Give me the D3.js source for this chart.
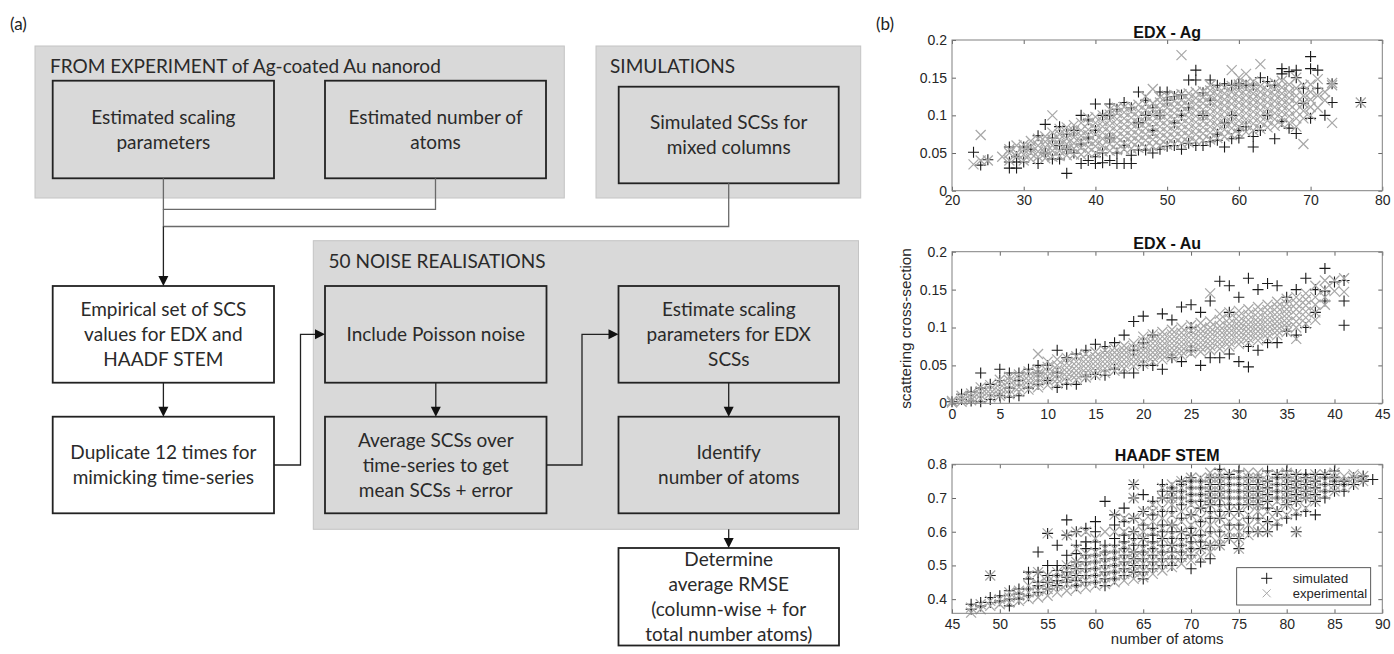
<!DOCTYPE html>
<html><head><meta charset="utf-8">
<script src="https://cdn.jsdelivr.net/npm/d3@7"></script>
<style>body{margin:0;background:#fff}</style>
</head><body><svg id="c" width="1394" height="654"></svg>
<script>
// ---------------- DATA ----------------
// Flowchart texts
const groupTitles = ["FROM EXPERIMENT of Ag-coated Au nanorod", "SIMULATIONS", "50 NOISE REALISATIONS"];
const boxTexts = {
  scaling: ["Estimated scaling", "parameters"],
  atoms: ["Estimated number of", "atoms"],
  simulated: ["Simulated SCSs for", "mixed columns"],
  empirical: ["Empirical set of SCS", "values for EDX and", "HAADF STEM"],
  duplicate: ["Duplicate 12 times for", "mimicking time-series"],
  poisson: ["Include Poisson noise"],
  average: ["Average SCSs over", "time-series to get", "mean SCSs + error"],
  estimate: ["Estimate scaling", "parameters for EDX", "SCSs"],
  identify: ["Identify", "number of atoms"],
  rmse: ["Determine", "average RMSE", "(column-wise + for", "total number atoms)"]
};
// Scatter panels: columns [numberOfAtoms, scs values...]
const panelTitles = ["EDX - Ag", "EDX - Au", "HAADF STEM"];
const legendLabels = ["simulated", "experimental"];
const yAxisLabel = "scattering cross-section";
const xAxisLabel = "number of atoms";

const agXTicks = [20,30,40,50,60,70,80];
const agYTicks = [0,0.05,0.1,0.15,0.2];
const auXTicks = [0,5,10,15,20,25,30,35,40,45];
const auYTicks = [0,0.05,0.1,0.15,0.2];
const haXTicks = [45,50,55,60,65,70,75,80,85,90];
const haYTicks = [0.4,0.5,0.6,0.7,0.8];

const agSimulated = [
 [23,.051],[24,.034],[25,.041],[28,.03,.038,.058],[29,.03,.038,.045],[30,.038,.058],[31,.055],
 [32,.036,.073],[33,.05,.088],[34,.042,.07],[35,.042,.085,.06],[36,.023,.055,.075],[37,.05,.08],
 [38,.036,.1,.062],[39,.04,.094,.07],[40,.036,.045,.115,.08],[41,.037,.05,.1],[42,.04,.115,.1,.07],
 [43,.036,.108,.05],[44,.036,.117,.06],[45,.036,.047,.11],[46,.054,.131,.09],[47,.054,.12,.1],
 [48,.05,.11,.08],[49,.055,.131,.1],[50,.059,.131,.12],[51,.06,.125,.09],[52,.055,.127,.1],
 [53,.063,.147,.11],[54,.06,.16,.147],[55,.06,.13,.1],[56,.065,.147,.12],[57,.067,.075,.14],
 [58,.058,.142,.09],[59,.069,.14,.1],[60,.07,.142,.08],[61,.085,.14],[62,.058,.072,.14],
 [63,.08,.15],[64,.145,.1],[65,.069,.14],[66,.092,.162,.155],[67,.083,.158],[68,.076,.16,.15],
 [69,.116,.136],[70,.096,.162,.178],[71,.136,.16],[72,.1],[73,.117,.142],[77,.117]
];
const agExperimental = [
 [23,.035],[24,.074,.04],[25,.04],[27,.045],[28,.04,.05,.055],[29,.045,.05,.06],[30,.04,.048,.055,.061],
 [31,.042,.05,.058,.066],[32,.045,.052,.06,.069],[33,.043,.05,.058,.065,.072],[34,.045,.053,.06,.068,.077,.1],
 [35,.046,.053,.061,.068,.075,.082],[36,.047,.055,.062,.069,.077,.084],[37,.048,.056,.063,.071,.079,.087],
 [38,.048,.057,.065,.073,.08,.09],[39,.05,.058,.066,.074,.081,.09,.097],[40,.05,.059,.066,.075,.083,.09,.098],
 [41,.052,.06,.069,.077,.085,.092,.1],[42,.053,.062,.07,.078,.086,.093,.101,.108],[43,.054,.063,.071,.079,.087,.095,.103,.11],
 [44,.055,.063,.072,.08,.088,.096,.104,.111],[45,.056,.065,.073,.081,.089,.097,.105,.112],[46,.057,.066,.074,.082,.09,.098,.106,.114],
 [47,.058,.067,.075,.083,.091,.099,.107,.115,.125],[48,.059,.068,.076,.084,.092,.1,.108,.116,.135],[49,.06,.069,.077,.085,.093,.101,.109,.117,.124],
 [50,.061,.07,.078,.086,.094,.102,.11,.118,.126],[51,.062,.071,.079,.087,.095,.103,.111,.119,.127],[52,.063,.072,.08,.088,.096,.104,.112,.12,.128,.18],
 [53,.064,.073,.081,.089,.097,.105,.113,.121,.129],[54,.066,.075,.083,.091,.099,.107,.115,.123,.131],[55,.067,.076,.084,.092,.1,.108,.116,.124,.132],
 [56,.068,.077,.085,.093,.101,.109,.117,.125,.133,.14],[57,.07,.079,.087,.095,.103,.111,.119,.127,.135],[58,.072,.081,.089,.097,.105,.113,.121,.129,.137],
 [59,.074,.083,.091,.099,.107,.115,.123,.131,.139,.16],[60,.076,.085,.093,.101,.109,.117,.125,.133,.141,.15],[61,.078,.087,.095,.103,.111,.119,.127,.135,.143,.155],
 [62,.08,.089,.097,.105,.113,.121,.129,.137,.145],[63,.082,.091,.099,.107,.115,.123,.131,.139,.168],[64,.084,.093,.101,.109,.117,.125,.133,.141],
 [65,.086,.095,.103,.111,.119,.127,.135,.143],[66,.088,.097,.105,.113,.121,.129,.137,.146],[67,.09,.099,.107,.115,.123,.131,.141],
 [68,.085,.096,.106,.116,.126,.136,.15],[69,.062,.096,.106,.116,.126,.14],[70,.1,.111,.121,.131,.141],[71,.11,.126,.148],
 [72,.12,.131],[73,.09,.14,.143],[77,.117]
];
const auSimulated = [
 [0,.002],[1,.005,.012],[2,.003,.015],[3,.002,.02,.04],[4,.005,.025],[5,.01,.045,.03],[6,.008,.04,.02],
 [7,.01,.04,.03],[8,.02,.045],[9,.025,.04,.05],[10,.03,.05],[11,.021,.07,.04],[12,.025,.06],[13,.025,.065],
 [14,.035,.07],[15,.038,.078],[16,.037,.075],[17,.045,.08],[18,.04,.09],[19,.04,.108,.07],[20,.05,.115,.08],
 [21,.05,.09],[22,.045,.118],[23,.06,.11],[24,.055,.127],[25,.07,.13,.1],[26,.05,.12],[27,.06,.135],
 [28,.06,.161],[29,.065,.155,.12],[30,.055,.14],[31,.048,.165,.075],[32,.07,.15],[33,.08,.158],[34,.08,.155],
 [35,.095,.14],[36,.09,.15],[37,.1,.165],[38,.12,.15],[39,.135,.148,.178],[40,.16],[41,.103,.135,.162]
];
const auExperimental = [
 [0,.001,.003],[1,.002,.006,.01],[2,.004,.008,.013],[3,.006,.011,.016,.021],[4,.008,.013,.018,.024],
 [5,.01,.015,.02,.026,.031],[6,.012,.018,.024,.03,.035],[7,.015,.021,.027,.033,.038],[8,.018,.024,.03,.036,.042],
 [9,.021,.027,.033,.039,.045,.065],[10,.024,.03,.036,.042,.048,.055],[11,.026,.032,.038,.044,.05,.058],
 [12,.029,.035,.041,.047,.053,.06],[13,.031,.037,.043,.049,.055,.062],[14,.034,.04,.046,.052,.058,.065],
 [15,.037,.043,.049,.055,.061,.068],[16,.04,.046,.052,.058,.064,.07],[17,.043,.049,.055,.061,.067,.073],
 [18,.046,.052,.058,.064,.07,.076],[19,.049,.055,.061,.067,.073,.079],[20,.052,.058,.064,.07,.076,.082,.088],
 [21,.055,.061,.067,.073,.079,.085,.091],[22,.058,.064,.07,.076,.082,.088,.094],[23,.061,.067,.073,.079,.085,.091,.097],
 [24,.063,.069,.075,.081,.087,.093,.1],[25,.066,.072,.078,.084,.09,.096,.103],[26,.068,.074,.08,.086,.092,.098,.106],
 [27,.07,.076,.082,.088,.094,.1,.108,.145],[28,.072,.078,.084,.09,.096,.102,.11,.118],[29,.075,.081,.087,.093,.099,.105,.112,.12],
 [30,.078,.084,.09,.096,.102,.108,.115,.122],[31,.08,.086,.092,.098,.104,.11,.117,.124],[32,.083,.089,.095,.101,.107,.113,.12,.127],
 [33,.086,.092,.098,.104,.11,.116,.123,.13],[34,.09,.096,.102,.108,.114,.12,.127,.134],[35,.094,.1,.106,.112,.118,.124,.131,.138],
 [36,.085,.1,.108,.116,.124,.132,.14],[37,.105,.113,.121,.129,.137,.145],[38,.11,.12,.13,.14,.155],[39,.13,.14,.15,.162],
 [40,.148,.162],[41,.147,.165]
];
const haSimulated = [
 [47,.37,.385],[48,.38,.39],[49,.39,.405,.47],[50,.395,.41],[51,.38,.4,.425],[52,.4,.415,.43],[53,.41,.43,.46,.48],
 [54,.42,.44,.45,.48,.54],[55,.43,.45,.47,.5,.595],[56,.44,.455,.47,.485,.5,.56],[57,.45,.465,.48,.5,.53,.59,.635],
 [58,.44,.455,.47,.49,.51,.535,.56,.6],[59,.45,.47,.49,.51,.53,.55,.57,.61],[60,.45,.47,.49,.51,.53,.55,.57,.6,.63],
 [61,.44,.46,.48,.5,.52,.54,.56,.69],[62,.46,.48,.5,.52,.54,.56,.58,.62,.65],[63,.47,.49,.51,.53,.55,.57,.59,.63,.67],
 [64,.48,.5,.52,.54,.56,.58,.6,.64,.7,.74],[65,.46,.48,.5,.52,.54,.56,.58,.62,.66,.71],[66,.49,.51,.53,.55,.57,.59,.61,.65,.69],
 [67,.5,.52,.54,.56,.58,.6,.62,.66,.7,.72,.74],[68,.5,.52,.54,.56,.58,.6,.62,.66,.7,.72,.73],[69,.52,.54,.56,.58,.6,.64,.68,.7,.72,.74,.75],
 [70,.49,.53,.55,.57,.59,.61,.65,.69,.71,.73,.75,.76],[71,.51,.55,.57,.59,.63,.67,.69,.71,.73,.75],[72,.52,.56,.6,.64,.66,.68,.7,.72,.74,.76],
 [73,.56,.6,.64,.66,.68,.7,.72,.74,.76,.785],[74,.58,.62,.66,.68,.7,.72,.74,.76,.77],[75,.55,.58,.62,.66,.68,.7,.72,.74,.76,.78],
 [76,.6,.64,.68,.7,.72,.74,.76],[77,.6,.64,.68,.7,.72,.74,.76],[78,.6,.63,.67,.69,.71,.73,.75,.78],
 [79,.62,.66,.7,.72,.74,.76,.77],[80,.64,.68,.7,.72,.74,.76,.78],[81,.6,.65,.69,.71,.73,.75,.77],[82,.66,.7,.72,.74,.76,.77],
 [83,.65,.69,.71,.73,.75,.77],[84,.7,.72,.74,.76,.77],[85,.72,.74,.75,.76,.78],[86,.72,.74,.75],[87,.74,.76],[88,.75,.765],[89,.755]
];
const haExperimental = [
 [47,.36,.375],[48,.37,.385],[49,.38,.395,.47],[50,.385,.4],[51,.39,.405,.42],[52,.395,.41,.425],[53,.4,.42,.44,.47],
 [54,.405,.425,.445,.48],[55,.41,.43,.45,.47,.595],[56,.42,.44,.46,.48],[57,.425,.445,.465,.485,.5,.59],
 [58,.43,.45,.47,.49,.51,.55,.6],[59,.435,.455,.475,.495,.515,.535,.6],[60,.44,.46,.48,.5,.52,.54,.58],
 [61,.445,.465,.485,.505,.525,.55,.6],[62,.45,.47,.49,.51,.53,.55,.6,.65],[63,.455,.475,.495,.515,.535,.56,.6,.64],
 [64,.46,.48,.5,.52,.54,.57,.6,.64,.7,.74],[65,.465,.485,.505,.525,.55,.58,.6,.63,.66],[66,.475,.495,.515,.535,.56,.6,.63,.66,.68],
 [67,.485,.505,.525,.55,.58,.61,.64,.67,.7,.73],[68,.495,.515,.535,.56,.59,.62,.65,.68,.7,.72,.74],
 [69,.505,.525,.55,.57,.6,.63,.66,.69,.71,.73,.75],[70,.515,.535,.56,.59,.62,.65,.68,.7,.72,.74,.76],
 [71,.525,.55,.58,.61,.64,.67,.7,.72,.74,.76],[72,.54,.56,.59,.62,.65,.68,.7,.72,.74,.76,.775],
 [73,.56,.58,.61,.64,.67,.7,.72,.74,.76,.775],[74,.58,.6,.63,.66,.69,.71,.73,.75,.77],[75,.55,.58,.6,.63,.66,.69,.71,.73,.75,.77],
 [76,.59,.62,.65,.68,.7,.72,.74,.76,.775],[77,.6,.63,.66,.68,.7,.72,.74,.76,.775],[78,.6,.63,.66,.69,.71,.73,.75,.77],
 [79,.63,.66,.69,.71,.73,.75,.77],[80,.65,.68,.7,.72,.74,.76,.775],[81,.6,.66,.69,.71,.73,.75,.77],[82,.67,.7,.72,.74,.76],
 [83,.69,.71,.73,.75,.77],[84,.71,.73,.75,.77],[85,.72,.74,.76,.775],[86,.73,.75,.765],[87,.74,.76,.77],[88,.75,.765]
];

// ---------------- DRAW ----------------
const svg = d3.select("#c");
svg.append("rect").attr("width",1394).attr("height",654).attr("fill","#fff");
const FF = "Lato, 'Open Sans', sans-serif";
const AF = "'Liberation Sans', Arial, sans-serif";
const FS = 19;

// panel labels
svg.append("text").attr("x",10).attr("y",30).attr("font-family",FF).attr("font-size",17).attr("fill","#222").text("(a)");
svg.append("text").attr("x",876).attr("y",30).attr("font-family",FF).attr("font-size",17).attr("fill","#222").text("(b)");

const fc = svg.append("g");
function group(x0,y0,x1,y1,title,tx,ty){
  fc.append("rect").attr("x",x0).attr("y",y0).attr("width",x1-x0).attr("height",y1-y0)
    .attr("fill","#d9d9d9").attr("stroke","#c4c4c4").attr("stroke-width",1);
  fc.append("text").attr("x",tx).attr("y",ty).attr("font-family",FF).attr("font-size",FS)
    .attr("fill","#2a2a2a").text(title);
}
function box(x0,y0,x1,y1,lines,fill){
  fc.append("rect").attr("x",x0).attr("y",y0).attr("width",x1-x0).attr("height",y1-y0)
    .attr("fill",fill).attr("stroke","#222").attr("stroke-width",1.8);
  const cx=(x0+x1)/2, cy=(y0+y1)/2, lh=25;
  lines.forEach((t,i)=>{
    fc.append("text").attr("x",cx).attr("y",cy+(i-(lines.length-1)/2)*lh+6.5)
      .attr("text-anchor","middle").attr("font-family",FF).attr("font-size",FS).attr("fill","#2a2a2a").text(t);
  });
}
function line(d,col,w){ fc.append("path").attr("d",d).attr("fill","none").attr("stroke",col).attr("stroke-width",w); }
function arrowDown(x,y){ fc.append("path").attr("d",`M${x-5},${y-10}L${x+5},${y-10}L${x},${y}Z`).attr("fill","#111"); }
function arrowRight(x,y){ fc.append("path").attr("d",`M${x-10},${y-5}L${x-10},${y+5}L${x},${y}Z`).attr("fill","#111"); }

group(35,46,564.3,198,groupTitles[0],50,73);
group(596,46,860.7,198,groupTitles[1],610,73);
group(313.3,240.7,858.5,529.3,groupTitles[2],328.5,268);
const G="#d9d9d9", W="#fff";
box(52.7,80.7,274,178.3,boxTexts.scaling,G);
box(325,80.7,546,178.3,boxTexts.atoms,G);
box(618.7,86.7,838.7,183.3,boxTexts.simulated,G);
box(52.7,286,274,382.7,boxTexts.empirical,W);
box(52.7,416.7,274,513.3,boxTexts.duplicate,W);
box(325,286,546.5,382.7,boxTexts.poisson,G);
box(325,416.7,546.5,513.3,boxTexts.average,G);
box(618.5,286,839,382.7,boxTexts.estimate,G);
box(618.5,416.7,839,513.3,boxTexts.identify,G);
box(618.5,548,839,645.5,boxTexts.rmse,W);

line("M163.4,178.3V209.3H435.5V178.3","#6a6a6a",1.3);
line("M163.4,209.3V226.5H728.7V183.3","#6a6a6a",1.3);
line("M163.4,226.5V277","#222",1.3); arrowDown(163.4,286);
line("M163.4,382.7V407","#222",1.3); arrowDown(163.4,416.7);
line("M274,465H300.5V334.3H316","#222",1.3); arrowRight(325,334.3);
line("M435.8,382.7V407","#222",1.3); arrowDown(435.8,416.7);
line("M546.5,465H582V334.3H609","#222",1.3); arrowRight(618.5,334.3);
line("M728.7,382.7V407","#222",1.3); arrowDown(728.7,416.7);
line("M728.7,529.3V539","#222",1.3); arrowDown(728.7,548);

// ---------- scatter panels ----------
const toPts = cols => cols.flatMap(c => c.slice(1).map(y => [c[0], y]));
const fmt = d => String(+d.toFixed(2));
const panels = [
  {title:panelTitles[0], sim:agSimulated, exp:agExperimental, xd:[20,80], xt:agXTicks, yd:[0,0.2], yt:agYTicks, top:40, bot:190.7, tb:38, pad:4},
  {title:panelTitles[1], sim:auSimulated, exp:auExperimental, xd:[0,45], xt:auXTicks, yd:[0,0.2], yt:auYTicks, top:251.7, bot:403.3, tb:248.5, pad:6},
  {title:panelTitles[2], sim:haSimulated, exp:haExperimental, xd:[45,90], xt:haXTicks, yd:[0.358,0.8], yt:haYTicks, top:464.3, bot:613.3, tb:460.5, pad:6}
];
const L=952, R=1382.3;
const plusPath = "M-5.5,0H5.5M0,-5.5V5.5";
const crossPath = "M-5,-5L5,5M-5,5L5,-5";
panels.forEach((p,pi)=>{
  const x = d3.scaleLinear().domain(p.xd).range([L,R]);
  const y = d3.scaleLinear().domain(p.yd).range([p.bot,p.top]);
  const g = svg.append("g");
  g.append("rect").attr("x",L).attr("y",p.top).attr("width",R-L).attr("height",p.bot-p.top).attr("fill","#fff");
  g.append("g").selectAll("path").data(toPts(p.sim)).join("path")
    .attr("transform",d=>`translate(${x(d[0])},${y(d[1])})`).attr("d",plusPath)
    .attr("stroke","#1a1a1a").attr("stroke-width",1.1).attr("fill","none");
  g.append("g").selectAll("path").data(toPts(p.exp)).join("path")
    .attr("transform",d=>`translate(${x(d[0])},${y(d[1])})`).attr("d",crossPath)
    .attr("stroke","#a8a8a8").attr("stroke-width",1.25).attr("fill","none");
  const style = sel => { sel.select(".domain").remove();
    sel.selectAll("line").attr("stroke","#666");
    sel.selectAll("text").attr("font-family",AF).attr("font-size",14).attr("fill","#262626"); };
  g.append("g").attr("transform",`translate(0,${p.bot})`)
    .call(d3.axisBottom(x).tickValues(p.xt).tickSizeInner(-4).tickSizeOuter(0).tickPadding(p.pad).tickFormat(fmt)).call(style);
  g.append("g").attr("transform",`translate(0,${p.top})`)
    .call(d3.axisTop(x).tickValues(p.xt).tickSizeInner(-4).tickSizeOuter(0).tickFormat("")).call(style);
  g.append("g").attr("transform",`translate(${L},0)`)
    .call(d3.axisLeft(y).tickValues(p.yt).tickSizeInner(-4).tickSizeOuter(0).tickPadding(5).tickFormat(fmt)).call(style);
  g.append("g").attr("transform",`translate(${R},0)`)
    .call(d3.axisRight(y).tickValues(p.yt).tickSizeInner(-4).tickSizeOuter(0).tickFormat("")).call(style);
  g.append("rect").attr("x",L).attr("y",p.top).attr("width",R-L).attr("height",p.bot-p.top)
    .attr("fill","none").attr("stroke","#808080").attr("stroke-width",1);
  g.append("text").attr("x",(L+R)/2).attr("y",p.tb).attr("text-anchor","middle")
    .attr("font-family",AF).attr("font-size",16).attr("font-weight","bold").attr("fill","#111").text(p.title);
  if(pi===1){
    g.append("text").attr("transform",`translate(911,${(p.top+p.bot)/2+1}) rotate(-90)`).attr("text-anchor","middle")
      .attr("font-family",AF).attr("font-size",15.3).attr("fill","#262626").text(yAxisLabel);
  }
  if(pi===2){
    g.append("text").attr("x",(L+R)/2).attr("y",644).attr("text-anchor","middle")
      .attr("font-family",AF).attr("font-size",15).attr("fill","#262626").text(xAxisLabel);
    const lg = g.append("g");
    lg.append("rect").attr("x",1236.7).attr("y",567.7).attr("width",134).attr("height",37.3)
      .attr("fill","#fff").attr("stroke","#333").attr("stroke-width",0.8);
    lg.append("path").attr("transform","translate(1266.7,578.3)").attr("d",plusPath).attr("stroke","#1a1a1a").attr("fill","none");
    lg.append("path").attr("transform","translate(1266.7,593.3)").attr("d","M-4,-4L4,4M-4,4L4,-4").attr("stroke","#a8a8a8").attr("fill","none");
    lg.append("text").attr("x",1292.7).attr("y",582.8).attr("font-family",AF).attr("font-size",13).attr("fill","#262626").text(legendLabels[0]);
    lg.append("text").attr("x",1292.7).attr("y",597.8).attr("font-family",AF).attr("font-size",13).attr("fill","#262626").text(legendLabels[1]);
  }
});
</script></body></html>
